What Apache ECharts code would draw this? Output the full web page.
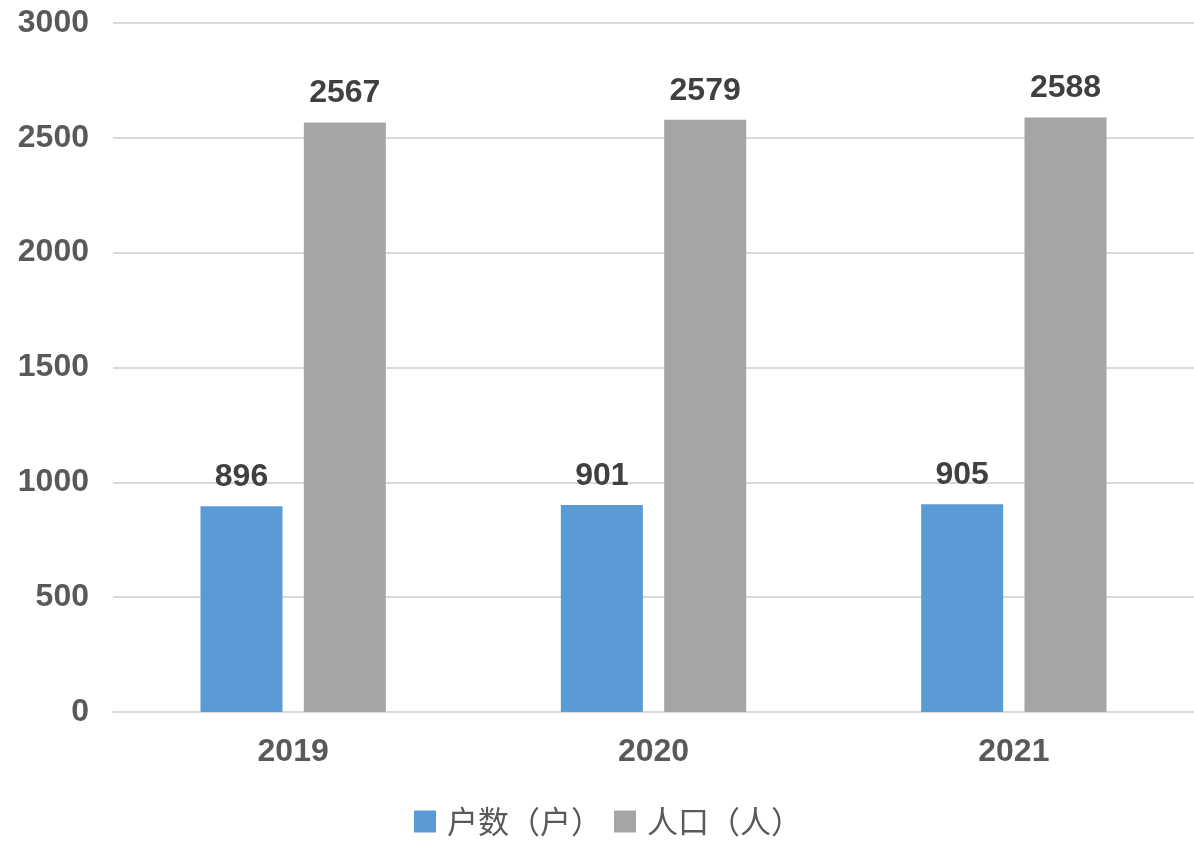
<!DOCTYPE html>
<html><head><meta charset="utf-8">
<script src="https://cdn.jsdelivr.net/npm/echarts@6/dist/echarts.min.js"></script>
<style>html,body{margin:0;padding:0;background:#fff}#c{width:1194px;height:842px}</style>
</head><body><div id="c"></div>
<script>
const categories = ['2019', '2020', '2021'];
const households = [896, 901, 905];
const population = [2567, 2579, 2588];
const seriesNames = ['户数（户）', '人口（人）'];

const chart = echarts.init(document.getElementById('c'));
const lbl = {show: true, position: 'top', distance: 13, color: '#404040', fontSize: 32, fontWeight: 'bold', fontFamily: 'Liberation Sans, Arial, sans-serif'};
chart.setOption({
  animation: false,
  grid: {left: 113, top: 23, width: 1086, height: 689, containLabel: false},
  legend: {
    data: seriesNames, bottom: 0, left: 409, itemWidth: 22, itemHeight: 22, itemGap: 12, icon: 'rect',
    textStyle: {fontSize: 31, color: '#595959', fontFamily: 'Noto Sans CJK SC', padding: [0, 0, 0, 6]}
  },
  xAxis: {
    type: 'category', data: categories,
    axisLine: {lineStyle: {color: '#D9D9D9', width: 2}}, axisTick: {show: false},
    axisLabel: {color: '#595959', fontSize: 32, fontWeight: 'bold', margin: 24, fontFamily: 'Liberation Sans, Arial, sans-serif'}
  },
  yAxis: {
    type: 'value', min: 0, max: 3000, interval: 500,
    axisLine: {show: false}, axisTick: {show: false},
    splitLine: {lineStyle: {color: '#D9D9D9', width: 2}},
    axisLabel: {color: '#595959', fontSize: 32, fontWeight: 'bold', margin: 24, formatter: v => String(v), fontFamily: 'Liberation Sans, Arial, sans-serif'}
  },
  series: [
    {name: seriesNames[0], type: 'bar', data: households, barWidth: 82, barGap: '26%', itemStyle: {color: '#5B9BD5'}, label: lbl},
    {name: seriesNames[1], type: 'bar', data: population, barWidth: 82, itemStyle: {color: '#A5A5A5'}, label: lbl}
  ]
});
</script></body></html>
